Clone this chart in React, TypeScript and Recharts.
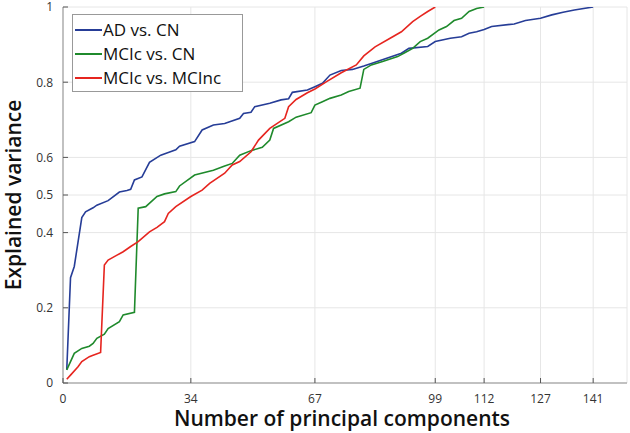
import React from 'react';
import { LineChart, Line, XAxis, YAxis, CartesianGrid, Legend } from 'recharts';

const xTicks = [0, 34, 67, 99, 112, 127, 141];
const yTicks = [0, 0.2, 0.4, 0.5, 0.6, 0.8, 1];

const adN = [1, 2, 3, 5, 6, 8, 9, 12, 15, 17, 18, 19, 21, 23, 26, 28, 30, 31, 35, 37, 40, 43, 47, 48, 50, 51, 55, 58, 60, 61, 65, 67, 69, 71, 74, 77, 80, 82, 90, 92, 97, 99, 103, 106, 108, 110, 112, 114, 120, 123, 127, 130, 133, 136, 141];
const adV = [0.035, 0.28, 0.31, 0.44, 0.455, 0.466, 0.473, 0.485, 0.508, 0.512, 0.515, 0.54, 0.548, 0.587, 0.606, 0.613, 0.62, 0.63, 0.642, 0.673, 0.686, 0.69, 0.704, 0.717, 0.72, 0.735, 0.744, 0.753, 0.756, 0.773, 0.779, 0.788, 0.797, 0.819, 0.831, 0.834, 0.843, 0.85, 0.877, 0.89, 0.895, 0.908, 0.917, 0.921, 0.93, 0.934, 0.94, 0.948, 0.955, 0.964, 0.97, 0.979, 0.986, 0.992, 1.0];

const mcicCnN = [1, 2, 3, 5, 7, 8, 9, 11, 12, 15, 16, 19, 20, 22, 25, 27, 30, 31, 35, 40, 43, 45, 47, 50, 53, 55, 56, 60, 62, 66, 67, 69, 71, 74, 76, 79, 80, 82, 85, 89, 91, 93, 95, 97, 100, 102, 104, 106, 108, 110, 112];
const mcicCnV = [0.035, 0.057, 0.079, 0.092, 0.098, 0.105, 0.119, 0.13, 0.145, 0.163, 0.181, 0.188, 0.465, 0.469, 0.496, 0.503, 0.509, 0.524, 0.553, 0.566, 0.577, 0.584, 0.606, 0.618, 0.627, 0.646, 0.677, 0.695, 0.707, 0.719, 0.739, 0.748, 0.757, 0.766, 0.775, 0.784, 0.834, 0.846, 0.855, 0.868, 0.879, 0.89, 0.908, 0.917, 0.939, 0.948, 0.964, 0.97, 0.988, 0.996, 1.0];

const mcicMcincN = [1, 2, 4, 5, 7, 8, 10, 11, 12, 14, 16, 18, 20, 23, 25, 27, 28, 30, 34, 37, 39, 43, 45, 47, 50, 52, 55, 59, 60, 62, 65, 67, 70, 74, 78, 80, 83, 87, 90, 93, 95, 97, 99];
const mcicMcincV = [0.01, 0.021, 0.043, 0.057, 0.07, 0.074, 0.081, 0.314, 0.327, 0.338, 0.349, 0.363, 0.376, 0.402, 0.414, 0.429, 0.451, 0.469, 0.496, 0.513, 0.531, 0.558, 0.58, 0.589, 0.615, 0.646, 0.677, 0.704, 0.735, 0.754, 0.772, 0.782, 0.801, 0.825, 0.846, 0.87, 0.894, 0.917, 0.934, 0.961, 0.975, 0.988, 1.0];

const toData = (ns: number[], vs: number[]) => ns.map((n, i) => ({ n, v: vs[i] }));
const adData = toData(adN, adV);
const mcicCnData = toData(mcicCnN, mcicCnV);
const mcicMcincData = toData(mcicMcincN, mcicMcincV);

const FONT = '"Open Sans", "Noto Sans", sans-serif';
const TICK_MARK = 5;
const TICK_COLOR = '#555';

const BottomTick = (props: any) => {
  const { x, y, payload } = props;
  const axisY = y - 11;
  return (
    <g>
      <line x1={x} y1={axisY} x2={x} y2={axisY - TICK_MARK} stroke={TICK_COLOR} strokeWidth={1} />
      <text x={x} y={y} dy="0.71em" textAnchor="middle" fontSize={12} fill="#333" fontFamily={FONT}>
        {payload.value}
      </text>
    </g>
  );
};

const LeftTick = (props: any) => {
  const { x, y, payload } = props;
  const axisX = x + 10;
  return (
    <g>
      <line x1={axisX} y1={y} x2={axisX + TICK_MARK} y2={y} stroke={TICK_COLOR} strokeWidth={1} />
      <text x={x} y={y} dy="0.36em" textAnchor="end" fontSize={12} fill="#333" fontFamily={FONT}>
        {payload.value}
      </text>
    </g>
  );
};

const TopTick = (props: any) => {
  const { x, y } = props;
  return <line x1={x} y1={y} x2={x} y2={y + TICK_MARK} stroke={TICK_COLOR} strokeWidth={1} />;
};

const RightTick = (props: any) => {
  const { x, y } = props;
  return <line x1={x} y1={y} x2={x - TICK_MARK} y2={y} stroke={TICK_COLOR} strokeWidth={1} />;
};

const LegendBox = (props: any) => {
  const { payload } = props;
  return (
    <div
      style={{
        border: '1px solid #999',
        background: '#fff',
        padding: '3px 0 0 2px',
        width: 167,
        height: 73,
        boxSizing: 'content-box',
        fontFamily: FONT,
        fontSize: 17,
        color: '#111',
      }}
    >
      {(payload || []).map((item: any) => (
        <div key={item.value} style={{ display: 'flex', alignItems: 'center', height: 24 }}>
          <div style={{ width: 27, height: 0, borderTop: `2px solid ${item.color}` }} />
          <span style={{ marginLeft: 1, lineHeight: '24px', whiteSpace: 'nowrap' }}>{item.value}</span>
        </div>
      ))}
    </div>
  );
};

const XLabel = (props: any) => {
  const { viewBox } = props;
  return (
    <text
      x={viewBox.x + viewBox.width / 2 - 3}
      y={viewBox.y + 43}
      textAnchor="middle"
      fontSize={21}
      fontWeight={600}
      fill="#111"
      fontFamily={FONT}
    >
      Number of principal components
    </text>
  );
};

const YLabel = (props: any) => {
  const { viewBox } = props;
  const cx = viewBox.x + 21;
  const cy = viewBox.y + viewBox.height / 2;
  return (
    <text
      x={cx}
      y={cy}
      transform={`rotate(-90, ${cx}, ${cy})`}
      textAnchor="middle"
      fontSize={21}
      fontWeight={600}
      fill="#111"
      fontFamily={FONT}
    >
      Explained variance
    </text>
  );
};

export default function App() {
  return (
    <div style={{ position: 'absolute', left: 0, top: 0, width: 630, height: 433, background: '#fff' }}>
      <LineChart width={630} height={433} margin={{ top: 7, right: 3, bottom: 0, left: 0 }}>
        <CartesianGrid stroke="#e6e6e6" />
        <XAxis
          type="number"
          dataKey="n"
          domain={[0, 150]}
          ticks={xTicks}
          height={50}
          tickSize={0}
          tickMargin={11}
          tickLine={false}
          axisLine={{ stroke: '#8f8f8f' }}
          tick={BottomTick}
          interval={0}
          allowDataOverflow
          label={<XLabel />}
        />
        <XAxis
          xAxisId="top"
          orientation="top"
          type="number"
          domain={[0, 150]}
          ticks={xTicks}
          height={0}
          tickSize={0}
          tickMargin={0}
          tickLine={false}
          axisLine={{ stroke: '#8f8f8f' }}
          tick={TopTick}
          interval={0}
          allowDataOverflow
        />
        <YAxis
          type="number"
          domain={[0, 1]}
          ticks={yTicks}
          width={63}
          tickSize={0}
          tickMargin={10}
          tickLine={false}
          axisLine={{ stroke: '#8f8f8f' }}
          tick={LeftTick}
          interval={0}
          allowDataOverflow
          label={<YLabel />}
        />
        <YAxis
          yAxisId="right"
          orientation="right"
          type="number"
          domain={[0, 1]}
          ticks={yTicks}
          width={0}
          tickSize={0}
          tickMargin={0}
          tickLine={false}
          axisLine={{ stroke: '#8f8f8f' }}
          tick={RightTick}
          interval={0}
          allowDataOverflow
        />
        <Legend
          layout="vertical"
          align="center"
          verticalAlign="middle"
          content={<LegendBox />}
          wrapperStyle={{ top: 14, left: 72, width: 'auto' }}
        />
        <Line data={adData} dataKey="v" name="AD vs. CN" stroke="#263d97" strokeWidth={1.6} dot={false} isAnimationActive={false} />
        <Line data={mcicCnData} dataKey="v" name="MCIc vs. CN" stroke="#1f8a2c" strokeWidth={1.6} dot={false} isAnimationActive={false} />
        <Line data={mcicMcincData} dataKey="v" name="MCIc vs. MCInc" stroke="#e6251f" strokeWidth={1.6} dot={false} isAnimationActive={false} />
      </LineChart>
    </div>
  );
}
